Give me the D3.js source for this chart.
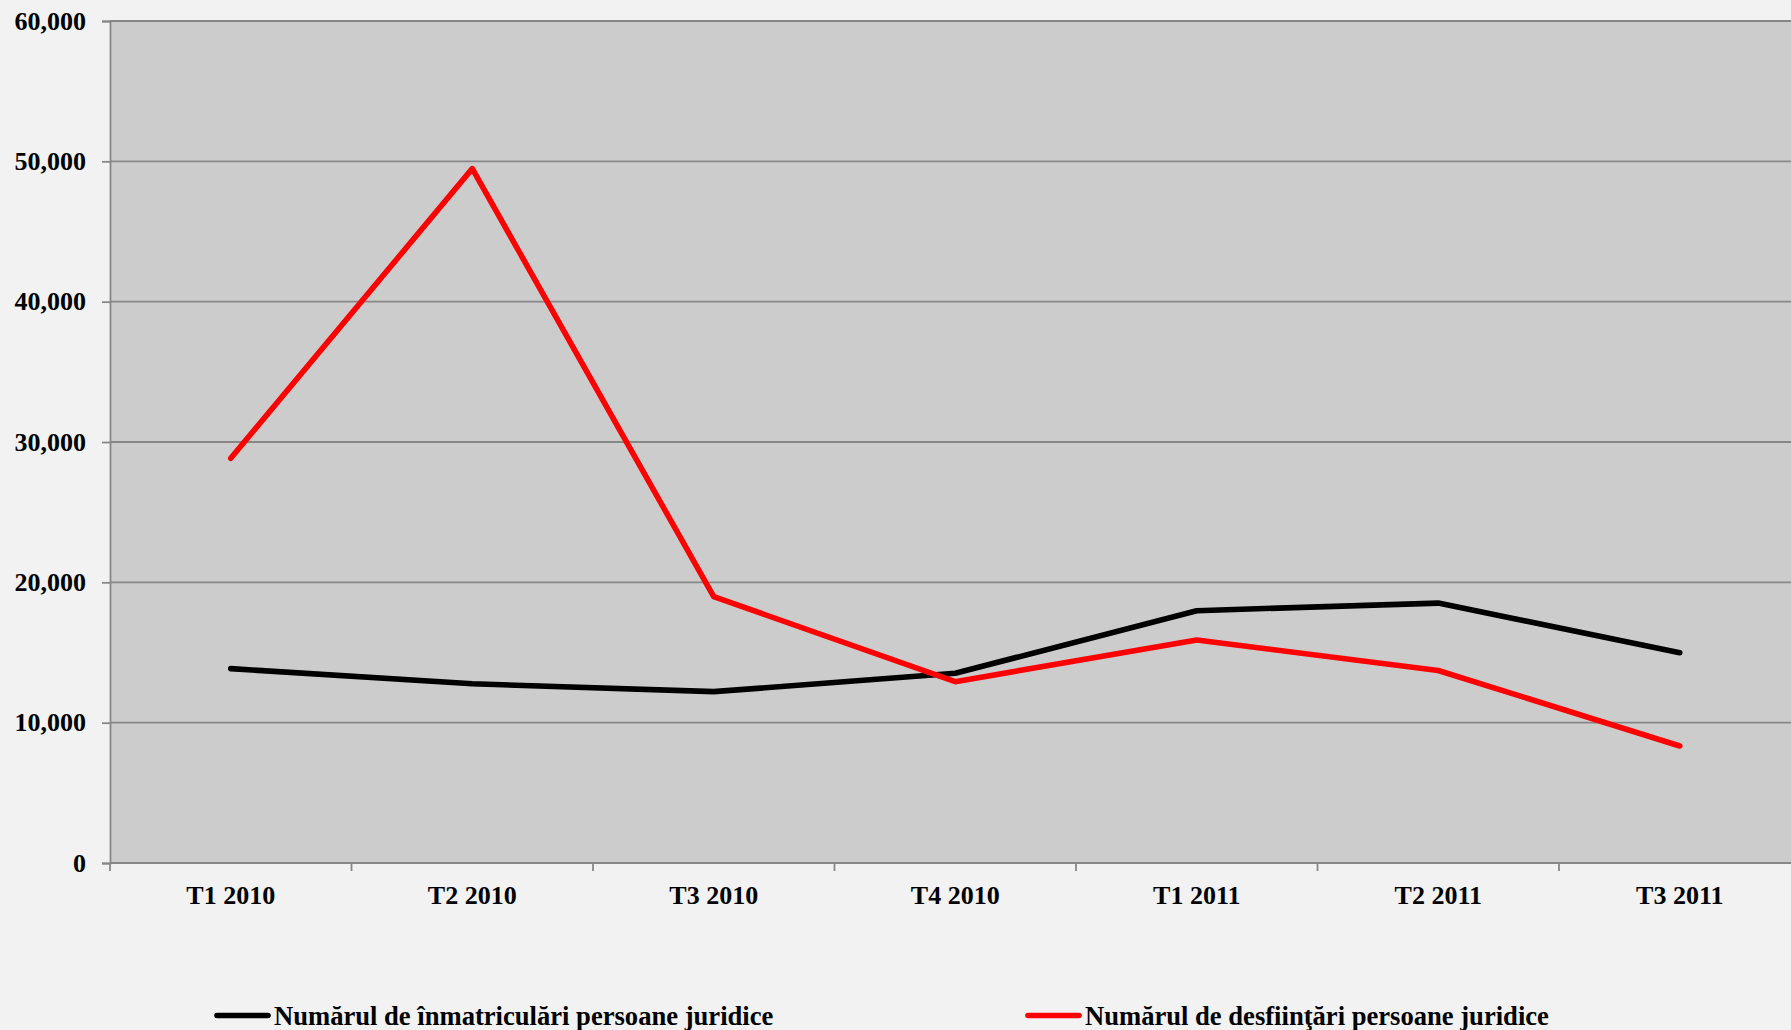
<!doctype html>
<html>
<head>
	<meta charset="utf-8">
	<title>Persoane juridice</title>
	<script src="https://cdnjs.cloudflare.com/ajax/libs/d3/7.8.5/d3.min.js"></script>
	<style>
		body { margin: 0; background: #f2f2f2; overflow: hidden; }
		svg { display: block; font-family: "Liberation Serif", "Times New Roman", serif; font-weight: bold; }
	</style>
</head>
<body>
	<script>
		// data
		var categories = ['T1 2010', 'T2 2010', 'T3 2010', 'T4 2010', 'T1 2011', 'T2 2011', 'T3 2011'];
		var inmatriculari = [13850, 12770, 12210, 13520, 17980, 18520, 14990];
		var desfiintari = [28840, 49480, 18980, 12920, 15890, 13720, 8340];
		var yTicks = [0, 10000, 20000, 30000, 40000, 50000, 60000];
		var seriesNames = ['Numărul de înmatriculări persoane juridice', 'Numărul de desfiinţări persoane juridice'];
		var seriesColors = ['#000000', '#ff0000'];

		var W = 1791, H = 1030;
		// plot box (note: "top" is reserved on window, so prefixed)
		var plotL = 110, plotR = 1800.5, plotT = 21, plotB = 863;

		var svg = d3.select('body').append('svg')
			.attr('width', W)
			.attr('height', H);

		var x = d3.scaleBand().domain(categories).range([plotL, plotR]);
		var y = d3.scaleLinear().domain([0, 60000]).range([plotB, plotT]);

		// plot area
		svg.append('rect')
			.attr('x', plotL).attr('y', plotT)
			.attr('width', plotR - plotL).attr('height', plotB - plotT)
			.attr('fill', '#cccccc');

		// gridlines
		svg.append('g').selectAll('line')
			.data(yTicks.slice(1))
			.enter().append('line')
			.attr('x1', plotL).attr('x2', plotR)
			.attr('y1', function (d) { return y(d); })
			.attr('y2', function (d) { return y(d); })
			.attr('stroke', '#878787')
			.attr('stroke-width', 1.8);

		// y axis
		var yAxis = svg.append('g')
			.attr('transform', 'translate(' + plotL + ',0)')
			.call(d3.axisLeft(y).tickValues(yTicks).tickFormat(d3.format(',')).tickSize(8).tickPadding(16));
		yAxis.select('.domain').attr('stroke', '#878787').attr('stroke-width', 1.8);
		yAxis.selectAll('.tick line').attr('stroke', '#878787').attr('stroke-width', 1.8);
		yAxis.selectAll('text')
			.attr('fill', '#000')
			.style('font-size', '26px')
			.style('font-family', '"Liberation Serif", serif')
			.style('font-weight', 'bold');

		// x axis: labels centred in band, ticks on band edges
		var xAxis = svg.append('g')
			.attr('transform', 'translate(0,' + plotB + ')')
			.call(d3.axisBottom(x).tickSize(0).tickPadding(0));
		xAxis.select('.domain').remove();
		xAxis.selectAll('text')
			.attr('y', 41)
			.attr('dy', null)
			.attr('fill', '#000')
			.style('font-size', '26px')
			.style('font-family', '"Liberation Serif", serif')
			.style('font-weight', 'bold');

		svg.append('line')
			.attr('x1', plotL).attr('x2', plotR)
			.attr('y1', plotB).attr('y2', plotB)
			.attr('stroke', '#878787').attr('stroke-width', 1.8);

		svg.append('g').selectAll('line')
			.data(categories)
			.enter().append('line')
			.attr('x1', function (d) { return x(d); })
			.attr('x2', function (d) { return x(d); })
			.attr('y1', plotB).attr('y2', plotB + 8)
			.attr('stroke', '#878787').attr('stroke-width', 1.8);

		// lines
		var line = d3.line()
			.x(function (d, i) { return x(categories[i]) + x.bandwidth() / 2; })
			.y(function (d) { return y(d); });

		[inmatriculari, desfiintari].forEach(function (s, i) {
			svg.append('path')
				.datum(s)
				.attr('d', line)
				.attr('fill', 'none')
				.attr('stroke', seriesColors[i])
				.attr('stroke-width', 5.6)
				.attr('stroke-linejoin', 'round')
				.attr('stroke-linecap', 'round');
		});

		// legend
		var legendX = [217, 1028];
		var legend = svg.append('g').selectAll('g')
			.data(seriesNames)
			.enter().append('g')
			.attr('transform', function (d, i) { return 'translate(' + legendX[i] + ',1015.5)'; });
		legend.append('line')
			.attr('x1', 0).attr('x2', 51)
			.attr('stroke', function (d, i) { return seriesColors[i]; })
			.attr('stroke-width', 5.6)
			.attr('stroke-linecap', 'round');
		legend.append('text')
			.attr('x', 57)
			.attr('y', 9)
			.style('font-size', '26.6px')
			.text(function (d) { return d; });
	</script>
</body>
</html>
